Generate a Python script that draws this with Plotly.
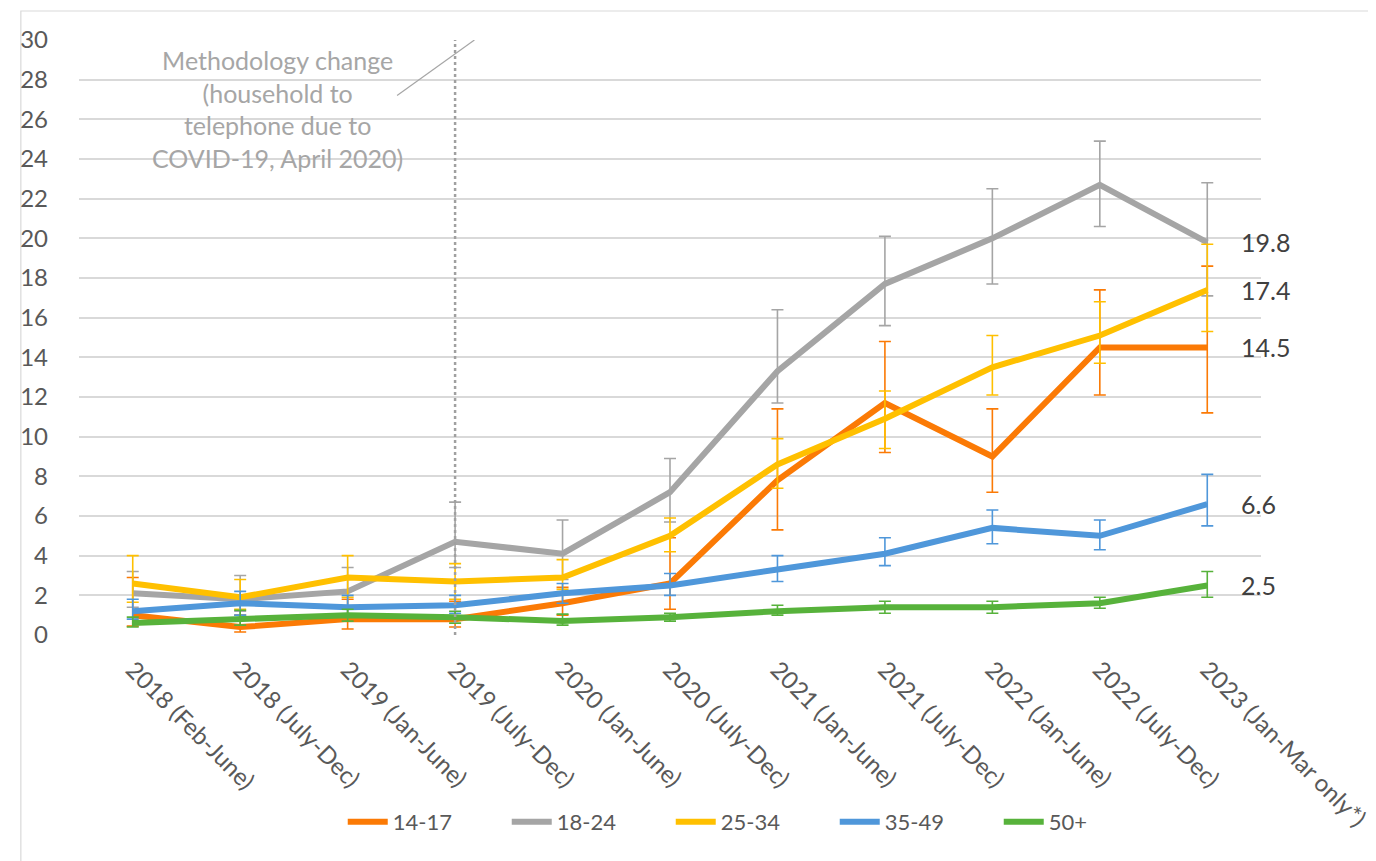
import plotly.graph_objects as go

categories = ["2018 (Feb-June)", "2018 (July-Dec)", "2019 (Jan-June)", "2019 (July-Dec)",
              "2020 (Jan-June)", "2020 (July-Dec)", "2021 (Jan-June)", "2021 (July-Dec)",
              "2022 (Jan-June)", "2022 (July-Dec)", "2023 (Jan-Mar only*)"]

series_names = ["14-17", "18-24", "25-34", "35-49", "50+"]

v_14_17 = [1.0, 0.4, 0.8, 0.8, 1.6, 2.6, 7.8, 11.7, 9.0, 14.5, 14.5]
hi_14_17 = [2.9, 1.0, 1.8, 1.7, 2.4, 4.9, 11.4, 14.8, 11.4, 17.4, 18.6]
lo_14_17 = [0.45, 0.15, 0.3, 0.4, 1.0, 1.3, 5.3, 9.2, 7.2, 12.1, 11.2]

v_18_24 = [2.1, 1.8, 2.2, 4.7, 4.1, 7.2, 13.3, 17.7, 20.0, 22.7, 19.8]
hi_18_24 = [3.2, 3.0, 3.4, 6.7, 5.8, 8.9, 16.4, 20.1, 22.5, 24.9, 22.8]
lo_18_24 = [1.4, 1.2, 1.4, 3.4, 2.8, 5.7, 11.7, 15.6, 17.7, 20.6, 17.1]

v_25_34 = [2.6, 1.9, 2.9, 2.7, 2.9, 5.0, 8.6, 10.9, 13.5, 15.1, 17.4]
hi_25_34 = [4.0, 2.8, 4.0, 3.6, 3.8, 5.9, 9.9, 12.3, 15.1, 16.8, 19.7]
lo_25_34 = [1.65, 1.3, 1.9, 1.8, 2.3, 4.2, 7.4, 9.4, 12.1, 13.7, 15.3]

v_35_49 = [1.2, 1.6, 1.4, 1.5, 2.1, 2.5, 3.3, 4.1, 5.4, 5.0, 6.6]
hi_35_49 = [1.8, 2.2, 2.0, 2.0, 2.6, 3.1, 4.0, 4.9, 6.3, 5.8, 8.1]
lo_35_49 = [0.8, 1.0, 0.9, 1.1, 1.6, 2.0, 2.7, 3.5, 4.6, 4.3, 5.5]

v_50 = [0.6, 0.8, 1.0, 0.9, 0.7, 0.9, 1.2, 1.4, 1.4, 1.6, 2.5]
hi_50 = [0.9, 1.25, 1.3, 1.2, 1.05, 1.1, 1.5, 1.7, 1.7, 1.9, 3.2]
lo_50 = [0.4, 0.5, 0.7, 0.6, 0.5, 0.7, 1.0, 1.1, 1.1, 1.35, 1.9]

values = [v_14_17, v_18_24, v_25_34, v_35_49, v_50]
highs = [hi_14_17, hi_18_24, hi_25_34, hi_35_49, hi_50]
lows = [lo_14_17, lo_18_24, lo_25_34, lo_35_49, lo_50]
colors = ["#FB7A05", "#A5A5A5", "#FFC000", "#4F97DA", "#57B23B"]

y_ticks = list(range(0, 31, 2))
annotation_text = "Methodology change<br>(household to<br>telephone due to<br>COVID-19, April 2020)"
change_category = "2019 (July-Dec)"

FONT = "Lato, 'Open Sans', sans-serif"

fig = go.Figure()
for name, v, hi, lo, c in zip(series_names, values, highs, lows, colors):
    fig.add_trace(go.Scatter(
        x=categories, y=v, name=name, mode="lines",
        line=dict(color=c, width=6),
        error_y=dict(type="data", symmetric=False,
                     array=[h - a for h, a in zip(hi, v)],
                     arrayminus=[a - l for a, l in zip(v, lo)],
                     color=c, thickness=1.6, width=6),
    ))

# end-of-line labels
for v, c in zip(values, colors):
    fig.add_annotation(x=categories[-1], y=v[-1], text=f"{v[-1]:.1f}",
                       showarrow=False, xanchor="left", xshift=32,
                       font=dict(family=FONT, size=25, color="#404040"))

# methodology change dotted line
ci = categories.index(change_category)
fig.add_shape(type="line", xref="x", yref="y", x0=ci, x1=ci, y0=0, y1=30,
              line=dict(color="#A0A0A0", width=2.5, dash="dot"))
# leader line
fig.add_shape(type="line", xref="x", yref="y", x0=ci - 0.54, y0=27.2, x1=ci + 0.18, y1=30,
              line=dict(color="#A6A6A6", width=1.2))
fig.add_annotation(x=ci - 1.65, y=26.5, text=annotation_text, showarrow=False,
                   xref="x", yref="y", align="center",
                   font=dict(family=FONT, size=25, color="#A6A6A6"))

# outer border
fig.add_shape(type="rect", xref="paper", yref="paper", x0=-0.0492, x1=1.1, y0=-0.45, y1=1.0487,
              line=dict(color="#D9D9D9", width=1.2), fillcolor="rgba(0,0,0,0)", layer="below")

fig.update_layout(
    width=1376, height=861,
    margin=dict(l=62, r=116, t=32, b=234),
    paper_bgcolor="white", plot_bgcolor="white",
    font=dict(family=FONT, size=22, color="#595959"),
    showlegend=True,
    legend=dict(orientation="h", x=0.57, xanchor="center", y=-0.314, yanchor="middle",
                font=dict(family=FONT, size=22, color="#595959"), itemwidth=40,
                entrywidth=109, entrywidthmode="pixels",
                traceorder="normal"),
    xaxis=dict(type="category", categoryorder="array", categoryarray=categories,
               showgrid=False, showline=False, zeroline=False, ticks="",
               tickangle=45, ticklabelstandoff=15,
               tickfont=dict(family=FONT, size=24, color="#595959"),
               range=[-0.5, len(categories) - 0.5]),
    yaxis=dict(range=[0, 30], tickvals=y_ticks, showgrid=True, gridcolor="#D9D9D9",
               gridwidth=1.5, zeroline=False, showline=False, ticks="",
               ticklabelstandoff=30,
               tickfont=dict(family=FONT, size=24, color="#595959")),
)

fig.write_html("out.html")
